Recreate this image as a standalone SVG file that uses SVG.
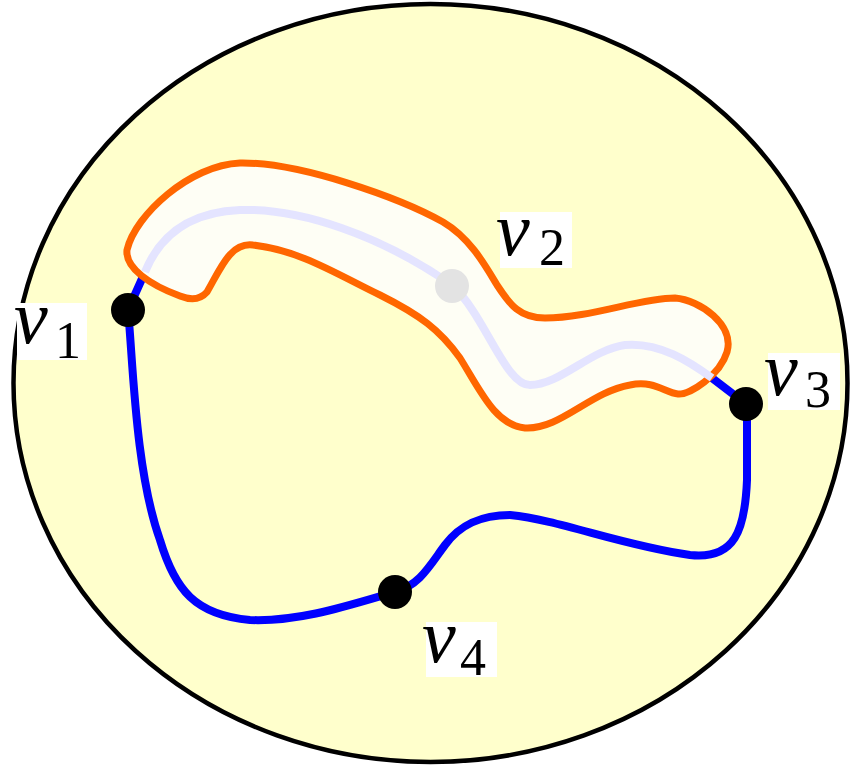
<svg xmlns="http://www.w3.org/2000/svg" width="850" height="766" viewBox="0 0 850 766">
<style>
.lbl{fill:#fff}
.v{font-family:"Liberation Serif","DejaVu Serif",serif;font-style:italic;font-size:76px;fill:#000}
.s{font-family:"Liberation Serif","DejaVu Serif",serif;font-size:52px;fill:#000}
.node{fill:#000}
</style>
<ellipse cx="430.5" cy="383" rx="417" ry="379" fill="#ffffcc" stroke="#000" stroke-width="4.5"/>
<g id="connectors" fill="none" stroke-linecap="round">
<path d="M128 310 L145 272" stroke="#0000ff" stroke-width="8"/>
<path d="M128 310 C133 360 135 470 160 540 C175 590 195 615 250 620 C300 622 350 605 395 592 C420 585 430 565 445 545 C460 525 480 515 510 515 C560 520 620 545 690 555 C735 560 745 530 747 480 L747 404" stroke="#0000ff" stroke-width="8"/>
<path d="M746 404 L712 378" stroke="#0000ff" stroke-width="8"/>
</g>
<g id="region">
<path d="M127 250 C135 215 190 165 240 163 C300 162 400 198 443 222 C470 238 485 265 497 285 C510 305 520 318 545 318 C590 318 640 298 675 298 C700 300 735 325 727 352 C720 375 690 395 678 394 C665 393 655 380 630 385 C590 392 560 430 525 428 C495 425 480 390 460 358 C440 330 420 315 380 295 C340 276 300 250 253 245 C230 242 220 270 207 292 C200 300 190 300 180 296 C150 285 125 268 127 250 Z" fill="#fefef5" stroke="#ff6600" stroke-width="7" stroke-linejoin="round"/>
<path d="M145 272 C160 235 190 212 240 210 C300 208 380 235 452 285 C485 315 505 385 530 385 C560 385 590 350 625 345 C660 342 690 362 712 378" fill="none" stroke="#e4e4ff" stroke-width="8"/>
</g>
<g id="v1">
<circle class="node" cx="128" cy="310" r="17"/>
<rect class="lbl" x="17" y="303" width="70" height="57"/>
<text class="v" x="14" y="343">v</text><text class="s" x="55" y="358">1</text>
</g>
<g id="v2">
<circle cx="452" cy="286" r="17" fill="#e3e3e3"/>
<rect class="lbl" x="500" y="212" width="72" height="56"/>
<text class="v" x="496" y="255">v</text><text class="s" x="539" y="265">2</text>
</g>
<g id="v3">
<circle class="node" cx="746" cy="404" r="17"/>
<rect class="lbl" x="768" y="353" width="72" height="57"/>
<text class="v" x="764" y="395">v</text><text class="s" x="805" y="407">3</text>
</g>
<g id="v4">
<circle class="node" cx="395" cy="592" r="17"/>
<rect class="lbl" x="426" y="622" width="71" height="55"/>
<text class="v" x="422" y="662">v</text><text class="s" x="460" y="675">4</text>
</g>
</svg>
